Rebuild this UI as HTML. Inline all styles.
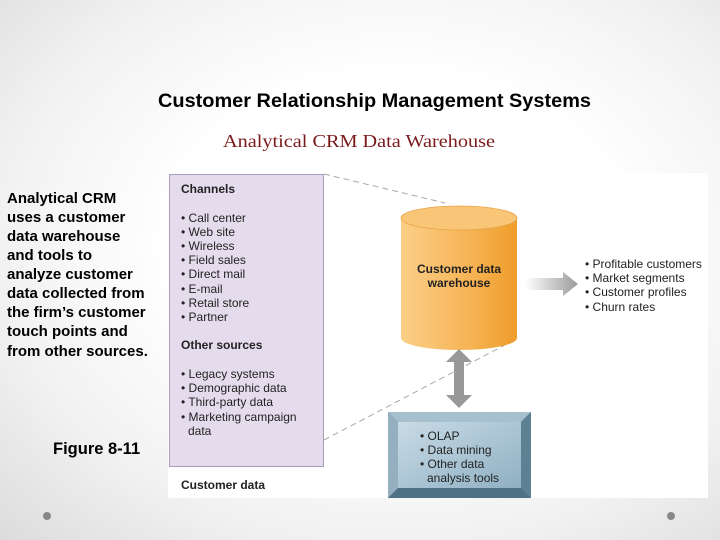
<!DOCTYPE html>
<html><head><meta charset="utf-8"><style>
html,body{margin:0;padding:0;width:720px;height:540px;overflow:hidden}
body{background:radial-gradient(ellipse at 55% 45%,#fff 40%,#f2f2f2 70%,#dcdcdc 100%)}
svg{position:absolute;left:0;top:0}
</style></head><body>
<svg width="720" height="540" xmlns="http://www.w3.org/2000/svg" font-family="Liberation Sans, Arial, sans-serif">
<defs>
<linearGradient id="cyl" x1="0" x2="1"><stop offset="0" stop-color="#fbcf88"/><stop offset="0.6" stop-color="#f6b354"/><stop offset="1" stop-color="#ee9d2a"/></linearGradient>
<linearGradient id="arr" x1="0" x2="1"><stop offset="0" stop-color="#ffffff"/><stop offset="1" stop-color="#9a9a9a"/></linearGradient>
<linearGradient id="blu" x1="0" y1="0" x2="1" y2="1"><stop offset="0" stop-color="#c9dbe6"/><stop offset="1" stop-color="#8fb0c3"/></linearGradient>
</defs>
<text x="158" y="107" textLength="433" lengthAdjust="spacingAndGlyphs" font-size="19" font-weight="bold" fill="#000">Customer Relationship Management Systems</text>
<text x="223" y="147" textLength="272" lengthAdjust="spacingAndGlyphs" font-size="18" font-family="Liberation Serif, serif" fill="#7a1a1a">Analytical CRM Data Warehouse</text>
<g font-size="15" fill="#000" font-weight="bold">
<text x="7" y="203">Analytical CRM</text>
<text x="7" y="222">uses a customer</text>
<text x="7" y="241">data warehouse</text>
<text x="7" y="260">and tools to</text>
<text x="7" y="279">analyze customer</text>
<text x="7" y="298">data collected from</text>
<text x="7" y="317">the firm’s customer</text>
<text x="7" y="336">touch points and</text>
<text x="7" y="356">from other sources.</text>
<text x="53" y="454" font-size="16.5">Figure 8-11</text>
</g>
<rect x="168" y="173" width="540" height="325" fill="#fff"/>
<rect x="169.5" y="174.5" width="154" height="292" fill="#e4dced" stroke="#a89cbc"/>
<g stroke="#a8a8a8" stroke-dasharray="6,4" stroke-width="1">
<line x1="324" y1="174" x2="445" y2="203"/>
<line x1="324" y1="440" x2="505" y2="345"/>
</g>
<g font-size="12" fill="#222">
<text x="181" y="193" font-weight="bold">Channels</text>
<text x="181" y="222">• Call center</text>
<text x="181" y="236">• Web site</text>
<text x="181" y="250">• Wireless</text>
<text x="181" y="264">• Field sales</text>
<text x="181" y="278">• Direct mail</text>
<text x="181" y="293">• E-mail</text>
<text x="181" y="307">• Retail store</text>
<text x="181" y="321">• Partner</text>
<text x="181" y="349" font-weight="bold">Other sources</text>
<text x="181" y="378">• Legacy systems</text>
<text x="181" y="392">• Demographic data</text>
<text x="181" y="406">• Third-party data</text>
<text x="181" y="421">• Marketing campaign</text>
<text x="188" y="435">data</text>
<text x="181" y="489" font-weight="bold">Customer data</text>
</g>
<path d="M401 218 V338 A58 12 0 0 0 517 338 V218 Z" fill="url(#cyl)"/>
<ellipse cx="459" cy="218" rx="58" ry="12" fill="#f9c576" stroke="#e9a448" stroke-width="0.8"/>
<text x="459" y="273" text-anchor="middle" font-size="12" font-weight="bold" fill="#222">Customer data</text>
<text x="459" y="287" text-anchor="middle" font-size="12" font-weight="bold" fill="#222">warehouse</text>
<path d="M525 278 H563 V272 L578 284 L563 296 V290 H525 Z" fill="url(#arr)"/>
<g font-size="12" fill="#222">
<text x="585" y="268">• Profitable customers</text>
<text x="585" y="282">• Market segments</text>
<text x="585" y="296">• Customer profiles</text>
<text x="585" y="311">• Churn rates</text>
</g>
<path d="M459 349 L472 362 H464 V395 H472 L459 408 L446 395 H454 V362 H446 Z" fill="#999"/>
<rect x="388" y="412" width="143" height="86" fill="#6e8fa3"/>
<path d="M388 412 H531 L521 422 H398 Z" fill="#a6c0cf"/>
<path d="M388 412 L398 422 V488 L388 498 Z" fill="#93afc0"/>
<path d="M388 498 L398 488 H521 L531 498 Z" fill="#4f7185"/>
<path d="M531 412 L521 422 V488 L531 498 Z" fill="#5e8093"/>
<rect x="398" y="422" width="123" height="66" fill="url(#blu)"/>
<g font-size="12" fill="#222">
<text x="420" y="440">• OLAP</text>
<text x="420" y="454">• Data mining</text>
<text x="420" y="468">• Other data</text>
<text x="427" y="482">analysis tools</text>
</g>
<circle cx="47" cy="516" r="4" fill="#888"/>
<circle cx="671" cy="516" r="4" fill="#888"/>
</svg>
</body></html>
